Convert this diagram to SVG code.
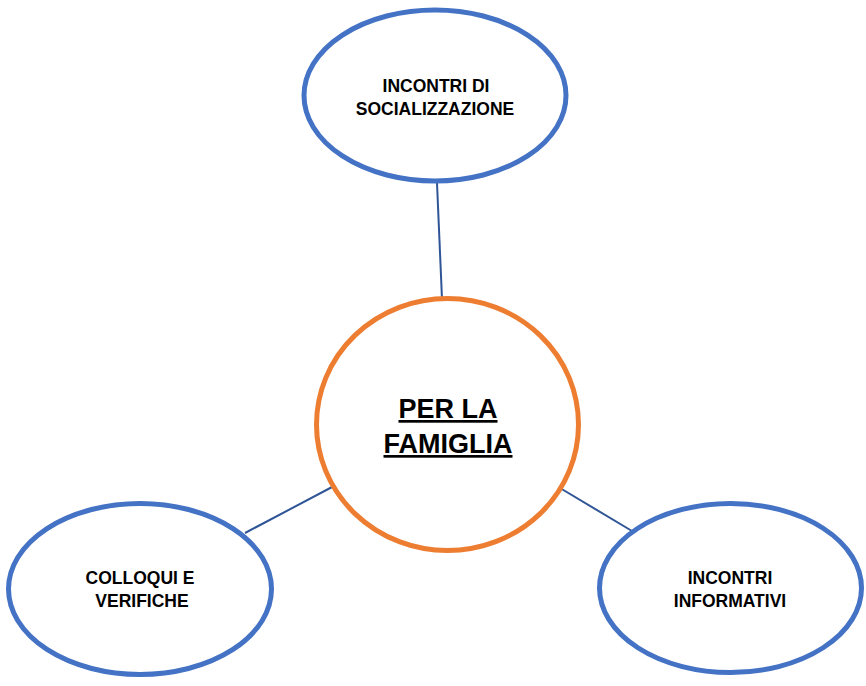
<svg xmlns="http://www.w3.org/2000/svg" width="866" height="686" viewBox="0 0 866 686">
<style>
.bg{fill:#ffffff}
.leaf{fill:#ffffff;stroke:#4472C4;stroke-width:5}
.hub{fill:#ffffff;stroke:#ED7D31;stroke-width:5}
.conn{stroke:#2F5597;stroke-width:2;fill:none}
.t{font-family:"Liberation Sans",Arial,sans-serif;font-weight:bold;font-size:17.5px;fill:#000000;text-anchor:middle}
.h{font-family:"Liberation Sans",Arial,sans-serif;font-weight:bold;font-size:27px;fill:#000000;text-anchor:middle;text-decoration:underline}
</style>
<rect class="bg" x="0" y="0" width="866" height="686"/>
<g id="connectors">
<line class="conn" x1="437" y1="183" x2="442" y2="299"/>
<line class="conn" x1="245" y1="533" x2="334" y2="486"/>
<line class="conn" x1="560" y1="488" x2="632" y2="531"/>
</g>
<g id="node-socializzazione">
<ellipse class="leaf" cx="435" cy="95.5" rx="131" ry="85.5"/>
<text class="t" x="436" y="92">INCONTRI DI</text>
<text class="t" x="435" y="115">SOCIALIZZAZIONE</text>
</g>
<g id="node-famiglia">
<ellipse class="hub" cx="447.5" cy="424.5" rx="131" ry="126"/>
<text class="h" x="448" y="418">PER LA</text>
<text class="h" x="448" y="453">FAMIGLIA</text>
</g>
<g id="node-colloqui">
<ellipse class="leaf" cx="140" cy="589" rx="131.5" ry="85.5"/>
<text class="t" x="140" y="584">COLLOQUI E</text>
<text class="t" x="142" y="607">VERIFICHE</text>
</g>
<g id="node-informativi">
<ellipse class="leaf" cx="730.5" cy="588" rx="131" ry="84.5"/>
<text class="t" x="730" y="584">INCONTRI</text>
<text class="t" x="730" y="607">INFORMATIVI</text>
</g>
</svg>
